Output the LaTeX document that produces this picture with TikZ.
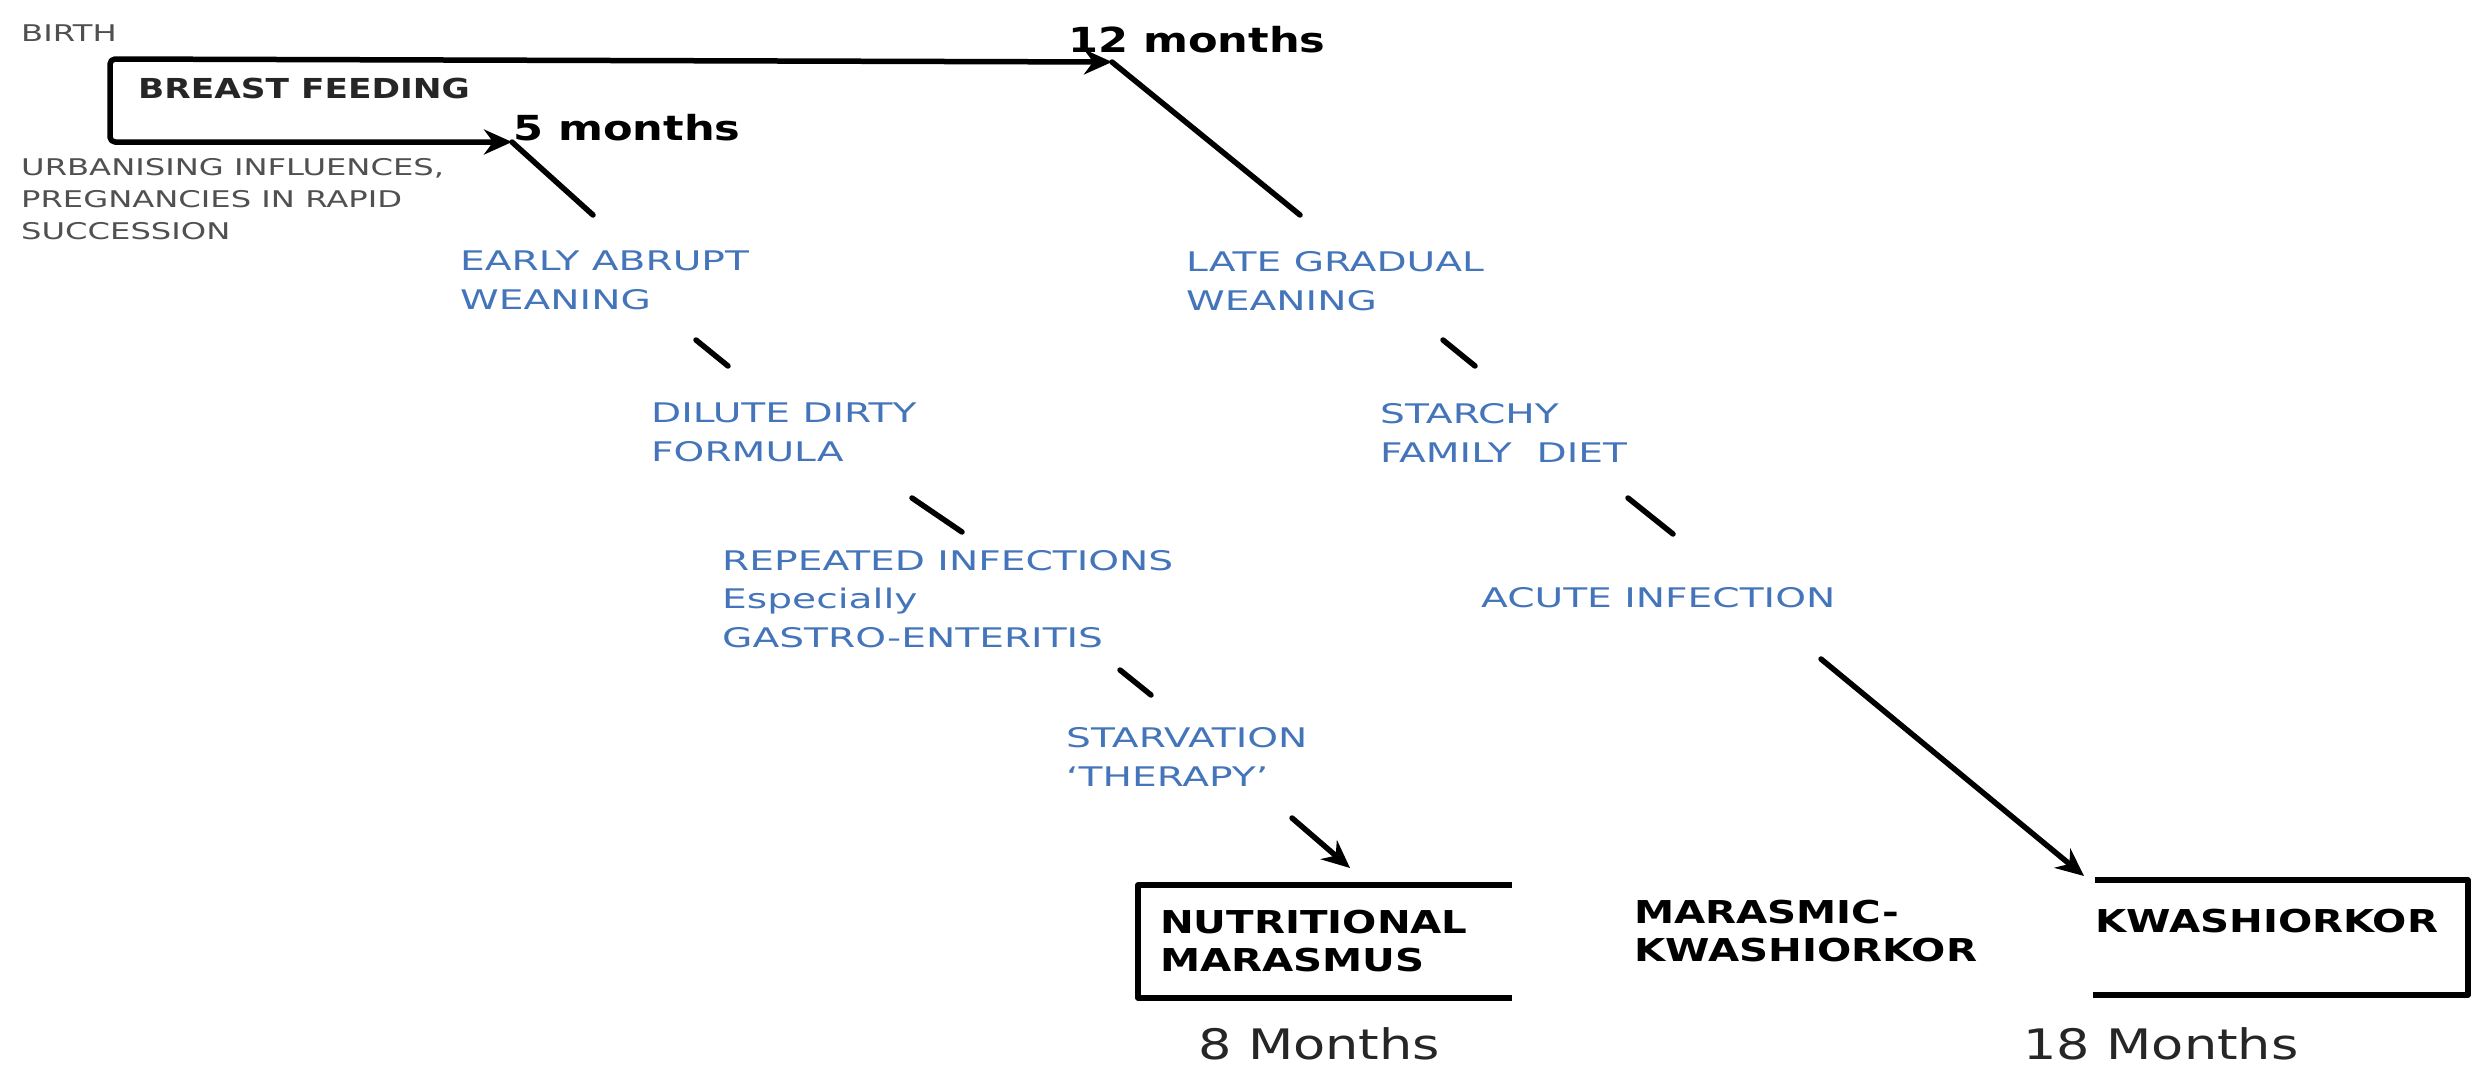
\documentclass[tikz,border=0pt]{standalone}
\usepackage{fontspec}
\setmainfont{DejaVu Sans}
\newfontfamily\fgrey{DejaVu Sans}[FakeStretch=1.4]
\newfontfamily\fblue{DejaVu Sans}[FakeStretch=1.45]
\newfontfamily\fmid{DejaVu Sans}[FakeStretch=1.25]
\newfontfamily\fboxfam{DejaVu Sans}[FakeStretch=1.28]
\usetikzlibrary{arrows.meta}
\definecolor{txtblue}{RGB}{68,116,185}
\definecolor{txtgrey}{RGB}{80,80,80}
\begin{document}
\begin{tikzpicture}[x=1pt,y=-1pt,
  ln/.style={line width=5.5pt, line join=round, line cap=round},
  tipend/.style={-{Stealth[length=28pt,width=25pt]}},
  greytxt/.style={inner sep=0pt, align=left, text=txtgrey, font=\fgrey\fontsize{23}{32}\selectfont},
  bluetxt/.style={inner sep=0pt, align=left, text=txtblue, font=\fblue\fontsize{27}{39}\selectfont},
  monthtxt/.style={inner sep=0pt, font=\fmid\bfseries\fontsize{34.5}{40}\selectfont},
  bftxt/.style={inner sep=0pt, font=\fmid\bfseries\fontsize{27.5}{32}\selectfont, text=black!85},
  boxtxt/.style={inner sep=0pt, align=left, font=\fboxfam\bfseries\fontsize{31.5}{38}\selectfont},
  agetxt/.style={inner sep=0pt, font=\fmid\fontsize{42}{48}\selectfont, text=black!85}
]
\useasboundingbox (0,0) rectangle (2473,1071);
\fill[white] (0,0) rectangle (2473,1071);

% texts
\node[greytxt, anchor=base west] (birth) at (21,41) {BIRTH};
\node[bftxt, anchor=base west] (bf) at (138,98) {BREAST FEEDING};
\node[monthtxt, anchor=base west] (m5) at (513,140) {5 months};
\node[monthtxt, anchor=base west] (m12) at (1068,52) {12 months};
\node[greytxt, anchor=north west] (urban) at (21,158) {URBANISING INFLUENCES,\\PREGNANCIES IN RAPID\\SUCCESSION};

\node[bluetxt, anchor=north west] (early) at (460,251) {EARLY ABRUPT\\WEANING};
\node[bluetxt, anchor=north west] (dilute) at (651,403) {DILUTE DIRTY\\FORMULA};
\node[bluetxt, anchor=north west, font=\fblue\fontsize{27}{38.5}\selectfont] (repeat) at (722,550) {REPEATED INFECTIONS\\Especially\\GASTRO-ENTERITIS};
\node[bluetxt, anchor=north west] (starv) at (1066,727) {STARVATION\\‘THERAPY’};

\node[bluetxt, anchor=north west] (late) at (1186,251) {LATE GRADUAL\\WEANING};
\node[bluetxt, anchor=north west] (starchy) at (1380,403) {STARCHY\\FAMILY\ \ DIET};
\node[bluetxt, anchor=base west] (acute) at (1481,607) {ACUTE INFECTION};

\node[boxtxt, anchor=north west] (nm) at (1160,910) {NUTRITIONAL\\MARASMUS};
\node[boxtxt, anchor=north west] (mk) at (1634,900) {MARASMIC-\\KWASHIORKOR};
\node[boxtxt, anchor=base west] (kw) at (2095,932) {KWASHIORKOR};

\node[agetxt, anchor=base west] (age8) at (1198,1059) {8 Months};
\node[agetxt, anchor=base west] (age18) at (2023,1059) {18 Months};

% breast feeding loop
\coordinate (tl) at (110,59);
\coordinate (bl) at (110,142);
\coordinate (a5) at (512,142);
\coordinate (a12) at (1112,62);
\draw[ln, rounded corners=5pt, {Stealth[length=28pt,width=25pt]}-{Stealth[length=28pt,width=25pt]}] (a12) -- (tl) -- (bl) -- (a5);

% left chain
\coordinate (d0e) at (593,215);
\draw[ln] (a5) -- (d0e);
\coordinate (d1s) at (696,340); \coordinate (d1e) at (728,366);
\draw[ln] (d1s) -- (d1e);
\coordinate (d2s) at (912,498); \coordinate (d2e) at (962,532);
\draw[ln] (d2s) -- (d2e);
\coordinate (d3s) at (1120,670); \coordinate (d3e) at (1151,695);
\draw[ln] (d3s) -- (d3e);
\coordinate (a1s) at (1292,818); \coordinate (a1e) at (1350,868);
\draw[ln, tipend] (a1s) -- (a1e);

% right chain
\coordinate (d4e) at (1300,215);
\draw[ln] (a12) -- (d4e);
\coordinate (d5s) at (1443,340); \coordinate (d5e) at (1475,366);
\draw[ln] (d5s) -- (d5e);
\coordinate (d6s) at (1628,498); \coordinate (d6e) at (1673,534);
\draw[ln] (d6s) -- (d6e);
\coordinate (a2s) at (1821,659); \coordinate (a2e) at (2084,876);
\draw[ln, tipend] (a2s) -- (a2e);

% boxes
\draw[ln, line cap=butt] (1512,885) -- (1138,885) -- (1138,998) -- (1512,998);
\draw[ln, line cap=butt] (2095,880) -- (2468,880) -- (2468,995) -- (2093,995);
\end{tikzpicture}
\end{document}
